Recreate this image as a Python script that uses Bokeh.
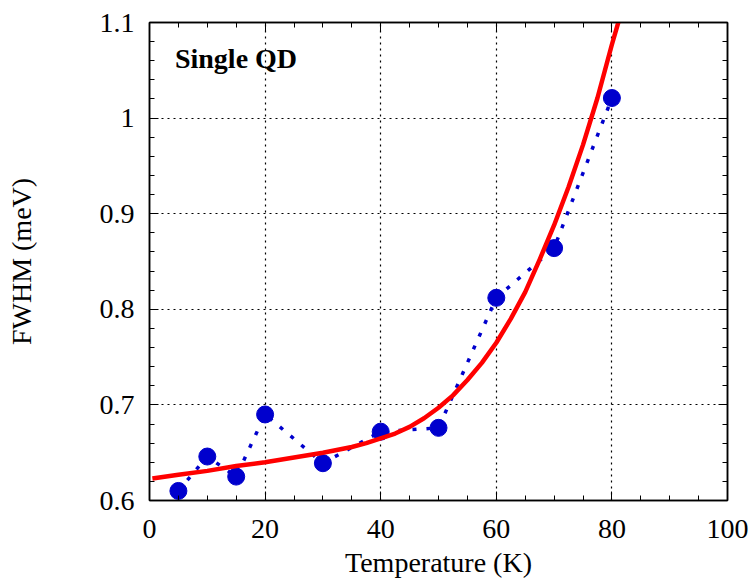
from bokeh.plotting import figure
from bokeh.models import (LinearAxis, SingleIntervalTicker, Range1d, Label,
                          ColumnDataSource)
from bokeh.embed import file_html
from bokeh.resources import INLINE

# Measured FWHM data (single quantum dot)
temperature_K = [5, 10, 15, 20, 30, 40, 50, 60, 70, 80]
fwhm_meV = [0.610, 0.646, 0.625, 0.690, 0.639, 0.672, 0.676, 0.812, 0.864, 1.021]

# Fit curve
fit_T = [0.5, 5, 10, 15, 20, 25, 30, 35, 37.5, 40, 42.5, 45, 47.5, 50, 52.5, 55,
         57.5, 60, 62.5, 65, 67.5, 70, 72.5, 75, 77.5, 80, 81.3]
fit_fwhm = [0.623, 0.627, 0.631, 0.636, 0.640, 0.645, 0.650, 0.656, 0.660, 0.665,
            0.670, 0.677, 0.686, 0.697, 0.710, 0.726, 0.744, 0.765, 0.790, 0.818,
            0.852, 0.888, 0.928, 0.972, 1.021, 1.077, 1.104]

x_range = (0, 100)
y_range = (0.6, 1.1)

FONT = "Liberation Serif"

p = figure(width=752, height=585, output_backend="svg", toolbar_location=None,
           x_range=Range1d(*x_range), y_range=Range1d(*y_range),
           min_border_left=149, min_border_right=25, min_border_top=22,
           min_border_bottom=85, background_fill_color="white",
           border_fill_color="white")
p.outline_line_color = "black"
p.outline_line_width = 1.5

xt = SingleIntervalTicker(interval=20, num_minor_ticks=4)
yt = SingleIntervalTicker(interval=0.1, num_minor_ticks=5)

p.xaxis.ticker = xt
p.yaxis.ticker = yt

for ax in (p.xaxis[0], p.yaxis[0]):
    ax.axis_line_color = "black"
    ax.axis_line_width = 1.5
    ax.major_tick_in = 9
    ax.major_tick_out = 0
    ax.minor_tick_in = 5
    ax.minor_tick_out = 0
    ax.major_tick_line_color = "black"
    ax.minor_tick_line_color = "black"
    ax.major_label_text_font = FONT
    ax.major_label_text_font_size = "28px"
    ax.major_label_text_color = "black"
    ax.axis_label_text_font = FONT
    ax.axis_label_text_font_size = "28px"
    ax.axis_label_text_font_style = "normal"
    ax.axis_label_text_color = "black"

p.xaxis.axis_label = "Temperature (K)"
p.yaxis.axis_label = "FWHM (meV)"
p.xaxis.major_label_standoff = 19
p.xaxis.axis_label_standoff = 6
p.yaxis.major_label_standoff = 15
p.yaxis.axis_label_standoff = 60
p.yaxis.major_label_overrides = {1.0: "1"}

# mirrored axes (ticks only, no labels)
for loc, tk in (("right", yt), ("above", xt)):
    ax = LinearAxis(ticker=tk)
    ax.axis_line_color = "black"
    ax.axis_line_width = 1.5
    ax.major_tick_in = 9
    ax.major_tick_out = 0
    ax.minor_tick_in = 5
    ax.minor_tick_out = 0
    ax.major_label_text_font_size = "0px"
    ax.major_label_text_color = None
    ax.major_label_standoff = 0
    p.add_layout(ax, loc)

for g in (p.xgrid[0], p.ygrid[0]):
    g.grid_line_color = "black"
    g.grid_line_dash = "2 4"
    g.grid_line_width = 1.2

src = ColumnDataSource(dict(T=temperature_K, F=fwhm_meV))
p.line("T", "F", source=src, line_color="#0000cd", line_width=3.5, line_dash="4 10")
p.scatter("T", "F", source=src, size=17, fill_color="#0000cd", line_color="#0000cd")

p.line(fit_T, fit_fwhm, line_color="#ff0000", line_width=4.5, line_join="round")

p.add_layout(Label(x=4.4, y=1.062, text="Single QD", text_font=FONT,
                   text_font_size="28px", text_font_style="bold",
                   text_baseline="middle", text_color="black"))

open("out.html", "w").write(file_html(p, INLINE))
